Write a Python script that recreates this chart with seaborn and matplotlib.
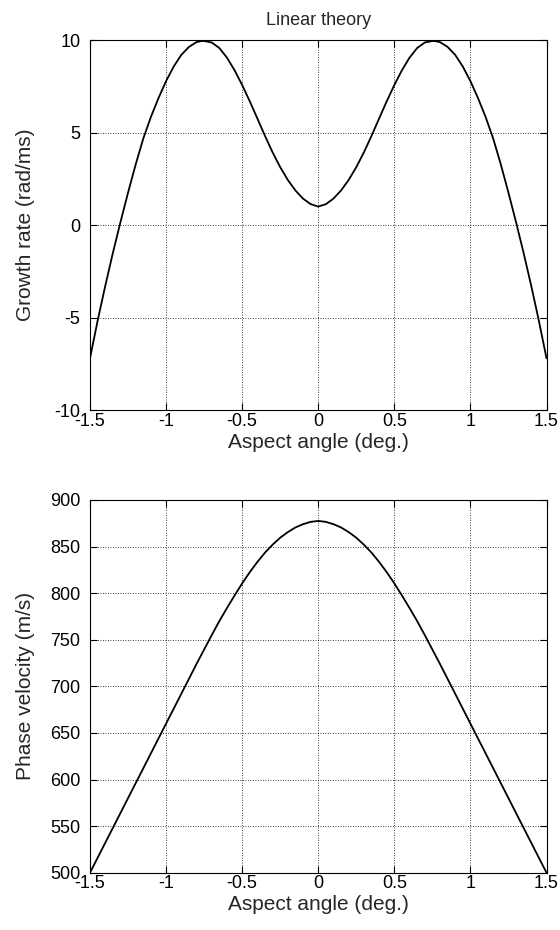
import matplotlib
matplotlib.use("Agg")
import matplotlib.pyplot as plt
import seaborn as sns
import pandas as pd

# Top panel: growth rate (rad/ms) vs aspect angle (deg.)
angle_top = [-1.5, -1.45, -1.4, -1.35, -1.3, -1.25, -1.2, -1.15, -1.1, -1.05, -1.0,
             -0.95, -0.9, -0.85, -0.8, -0.765, -0.75, -0.7, -0.65, -0.6, -0.55, -0.5,
             -0.45, -0.4, -0.35, -0.3, -0.25, -0.2, -0.15, -0.1, -0.05, 0.0,
             0.05, 0.1, 0.15, 0.2, 0.25, 0.3, 0.35, 0.4, 0.45, 0.5, 0.55, 0.6,
             0.65, 0.7, 0.75, 0.765, 0.8, 0.85, 0.9, 0.95, 1.0, 1.05, 1.1, 1.15,
             1.2, 1.25, 1.3, 1.35, 1.4, 1.45, 1.5]
growth = [-7.2, -5.18, -3.3, -1.52, 0.15, 1.75, 3.27, 4.67, 5.84, 6.86, 7.78,
          8.57, 9.2, 9.63, 9.89, 9.95, 9.95, 9.87, 9.57, 9.05, 8.37, 7.57,
          6.69, 5.76, 4.82, 3.93, 3.13, 2.44, 1.87, 1.43, 1.13, 1.0,
          1.13, 1.43, 1.87, 2.44, 3.13, 3.93, 4.82, 5.76, 6.69, 7.57, 8.37, 9.05,
          9.57, 9.87, 9.95, 9.95, 9.89, 9.63, 9.2, 8.57, 7.78, 6.86, 5.84, 4.67,
          3.27, 1.75, 0.15, -1.52, -3.3, -5.18, -7.2]

# Bottom panel: phase velocity (m/s) vs aspect angle (deg.)
angle_bot = [-1.5, -1.4, -1.3, -1.2, -1.1, -1.0, -0.9, -0.8, -0.7, -0.65, -0.6,
             -0.55, -0.5, -0.45, -0.4, -0.35, -0.3, -0.25, -0.2, -0.15, -0.1,
             -0.05, 0.0, 0.05, 0.1, 0.15, 0.2, 0.25, 0.3, 0.35, 0.4, 0.45, 0.5,
             0.55, 0.6, 0.65, 0.7, 0.8, 0.9, 1.0, 1.1, 1.2, 1.3, 1.4, 1.5]
velocity = [500, 532, 564, 596, 628, 660, 692, 724, 755, 770, 784,
            797.5, 810.5, 822.5, 833.5, 843.5, 852, 859.5, 865.5, 870.5, 874,
            876.5, 877.5, 876.5, 874, 870.5, 865.5, 859.5, 852, 843.5, 833.5, 822.5, 810.5,
            797.5, 784, 770, 755, 724, 692, 660, 628, 596, 564, 532, 500]

xticks = [-1.5, -1, -0.5, 0, 0.5, 1, 1.5]
xtick_labels = ["-1.5", "-1", "-0.5", "0", "0.5", "1", "1.5"]
yticks_top = [-10, -5, 0, 5, 10]
yticks_bot = [500, 550, 600, 650, 700, 750, 800, 850, 900]

sns.set_style("ticks")
plt.rcParams["font.family"] = ["Liberation Sans", "DejaVu Sans"]

fig = plt.figure(figsize=(5.6, 9.3), dpi=100)
ax1 = fig.add_axes([0.1607, 0.5591, 0.8152, 0.3978])
ax2 = fig.add_axes([0.1607, 0.0616, 0.8152, 0.4008])

df_top = pd.DataFrame({"angle": angle_top, "growth": growth})
df_bot = pd.DataFrame({"angle": angle_bot, "velocity": velocity})

sns.lineplot(data=df_top, x="angle", y="growth", ax=ax1, color="black", lw=1.3,
             sort=False, estimator=None)
sns.lineplot(data=df_bot, x="angle", y="velocity", ax=ax2, color="black", lw=1.3,
             sort=False, estimator=None)

for ax, yt, ylim, ylab in [(ax1, yticks_top, (-10, 10), "Growth rate (rad/ms)"),
                           (ax2, yticks_bot, (500, 900), "Phase velocity (m/s)")]:
    ax.set_xlim(-1.5, 1.5)
    ax.set_ylim(*ylim)
    ax.set_xticks(xticks)
    ax.set_xticklabels(xtick_labels)
    ax.set_yticks(yt)
    ax.set_yticklabels([str(v) for v in yt])
    ax.grid(True, color="black", linestyle=(0, (1, 2)), linewidth=0.6)
    ax.tick_params(direction="in", length=5, width=0.8, top=True, right=True,
                   labelsize=13, colors="black")
    ax.tick_params(axis="y", pad=7)
    ax.tick_params(axis="x", pad=2)
    for s in ax.spines.values():
        s.set_visible(True)
        s.set_color("black")
        s.set_linewidth(0.8)
    ax.set_xlabel("Aspect angle (deg.)", fontsize=15, labelpad=2)
    ax.set_ylabel(ylab, fontsize=15)
    ax.yaxis.set_label_coords(-0.12, 0.5)
    ax.set_facecolor("white")

ax1.set_title("Linear theory", fontsize=13, pad=11)

fig.savefig("out.png", dpi=100, facecolor="white")
